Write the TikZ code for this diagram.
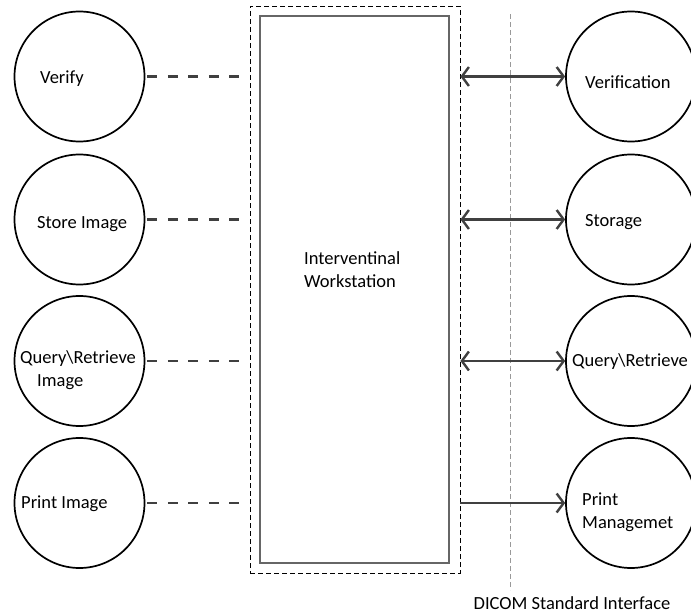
\documentclass[tikz,border=0pt]{standalone}
\usepackage{fontspec}
\setmainfont{Carlito}
\usetikzlibrary{arrows.meta}
\tikzset{
  usecase/.style={circle, draw=black, line width=1.7pt, minimum size=130pt, inner sep=0pt},
  lbl/.style={anchor=west, inner sep=0pt, font=\fontsize{18.5}{23}\selectfont, align=left},
  dashlink/.style={draw=black!75, line width=2.6pt, dash pattern=on 10pt off 10.5pt},
  barb/.tip={Straight Barb[length=7pt,width=19pt,line width=2.4pt]},
  dicomarrow/.style={draw=black!75, line width=2.4pt, -barb},
  dicomdouble/.style={draw=black!75, line width=2.4pt, barb-barb}
}
\begin{document}
\begin{tikzpicture}[x=1pt,y=-1pt]
\useasboundingbox (0,0) rectangle (691,613);
% outer dashed box and inner workstation box
\node[draw=black, line width=0.8pt, dash pattern=on 5pt off 3pt, minimum width=210pt, minimum height=567pt, inner sep=0pt] (outer) at (355,289.5) {};
\node[draw=black!60, line width=1.4pt, minimum width=189pt, minimum height=547pt, inner sep=0pt] (ws) at (354.5,289.5) {};
\node[lbl] (wslabel) at (304,269.5) {Interventinal\\Workstation};
% DICOM interface line
\coordinate (dtop) at (510.5,14);
\coordinate (dbot) at (510.5,590);
\draw[black!40, line width=1pt, dash pattern=on 5pt off 3pt] (dtop) -- (dbot);
\node[inner sep=0pt, font=\fontsize{18.5}{23}\selectfont] (dicom) at (572,603) {DICOM Standard Interface};
% left circles
\node[usecase] (l1) at (79.5,76.5) {};
\node[usecase] (l2) at (79.5,219.5) {};
\node[usecase] (l3) at (79.5,361) {};
\node[usecase] (l4) at (79.5,503) {};
\node[lbl] (l1t) at (40,79) {Verify};
\node[lbl] (l2t) at (37,224) {Store Image};
\node[lbl] (l3t) at (20,370) {Query\textbackslash Retrieve\\\hspace*{17pt}Image};
\node[lbl] (l4t) at (21,504) {Print Image};
% right circles
\node[usecase] (r1) at (631,76.5) {};
\node[usecase] (r2) at (631,219.5) {};
\node[usecase] (r3) at (631,361) {};
\node[usecase] (r4) at (631,503) {};
\node[lbl] (r1t) at (585,82) {Verification};
\node[lbl] (r2t) at (585,222) {Storage};
\node[lbl] (r3t) at (572,362) {Query\textbackslash Retrieve};
\node[lbl] (r4t) at (582,512) {Print\\Managemet};
% dashed links
\foreach \i in {1,2,3,4}{
  \draw[dashlink, shorten <=2pt, shorten >=10pt] (l\i.east) -- (l\i.east -| outer.west);
}
% arrows
\foreach \i in {1,2,3}{
  \draw[dicomdouble] (outer.east |- r\i.west) -- (r\i.west);
}
\draw[dicomarrow] (outer.east |- r4.west) -- (r4.west);
\end{tikzpicture}
\end{document}
